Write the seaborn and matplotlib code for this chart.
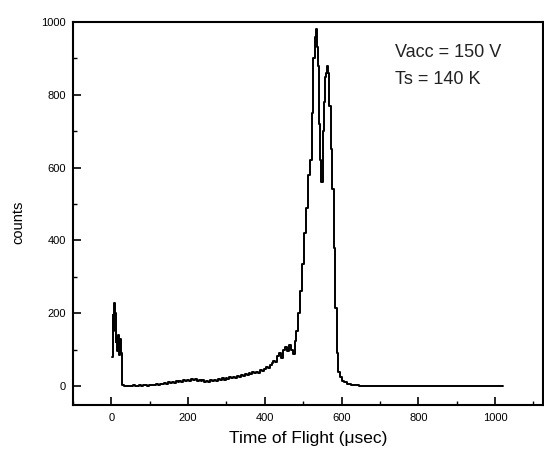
import matplotlib
matplotlib.use("Agg")
import matplotlib.pyplot as plt
import seaborn as sns
import pandas as pd
from matplotlib.ticker import MultipleLocator

# ---- data ----
tof_early = [2, 4, 6, 8, 10, 12, 14, 16, 18, 20, 22, 24, 26, 28]
counts_early = [80, 195, 150, 228, 200, 120, 135, 95, 140, 110, 85, 130, 90, 22]

tof_base = [30, 35, 40, 45, 50, 55, 60, 65, 70, 75, 80, 85, 90, 95, 100, 105, 110, 115,
            120, 125, 130, 135, 140, 145, 150, 155, 160, 165, 170, 175, 180, 185, 190,
            195, 200, 205, 210, 215, 220, 225, 230, 235, 240, 245, 250, 255, 260, 265,
            270, 275, 280, 285, 290, 295, 300, 305, 310, 315, 320, 325, 330, 335, 340,
            345, 350, 355, 360, 365, 370, 375, 380, 385, 390, 395, 400, 405, 410, 415,
            420, 425, 430, 435, 440, 445, 450, 455, 460, 465, 470, 475, 480, 485, 490, 495]
counts_base = [3, 0, 1, 0, 1, 0, 2, 1, 0, 2, 1, 3, 2, 1, 3, 2, 4, 3,
               6, 4, 7, 5, 9, 7, 10, 8, 12, 9, 13, 11, 15, 12, 16,
               13, 18, 15, 20, 16, 19, 14, 17, 13, 16, 11, 14, 12, 17, 13,
               18, 15, 20, 17, 22, 18, 21, 19, 24, 21, 26, 23, 28, 25, 30,
               27, 33, 31, 36, 33, 38, 35, 40, 37, 44, 41, 48, 52, 50, 58,
               62, 70, 65, 82, 90, 78, 100, 108, 95, 112, 100, 88, 125, 150, 200, 260]

tof_peak = [500, 505, 510, 515, 520, 524, 528, 531, 534, 537, 540, 543, 546, 549,
            552, 555, 558, 561, 564, 567, 570, 573, 577, 581, 585, 589, 593, 598,
            603, 610, 620, 630, 640, 650, 660, 1020]
counts_peak = [335, 420, 490, 580, 620, 750, 900, 960, 980, 930, 880, 720, 620, 560,
               700, 780, 850, 860, 880, 860, 770, 650, 540, 380, 215, 90, 40, 25,
               14, 10, 6, 4, 3, 1, 0, 0]

annotation_lines = ["Vacc = 150 V", "Ts = 140 K"]
x_label = "Time of Flight (\u03bcsec)"
y_label = "counts"

df = pd.DataFrame({
    "tof": tof_early + tof_base + tof_peak,
    "counts": counts_early + counts_base + counts_peak,
})

sns.set_theme(style="white")
plt.rcParams["font.family"] = ["Liberation Sans", "DejaVu Sans"]

fig = plt.figure(figsize=(5.44, 4.54), dpi=100)
ax = fig.add_axes([73 / 544, 1 - 405 / 454, 470 / 544, 383 / 454])

sns.lineplot(data=df, x="tof", y="counts", ax=ax, color="black", linewidth=1.4,
             drawstyle="steps-mid", estimator=None, sort=False)

ax.set_xlim(-100, 1125)
ax.set_ylim(-52, 1000)
ax.xaxis.set_major_locator(MultipleLocator(200))
ax.xaxis.set_minor_locator(MultipleLocator(100))
ax.yaxis.set_major_locator(MultipleLocator(200))
ax.yaxis.set_minor_locator(MultipleLocator(100))
ax.tick_params(which="major", direction="in", length=6, width=1.2, labelsize=8,
               color="black", labelcolor="black")
ax.tick_params(axis="x", which="major", pad=6)
ax.tick_params(axis="y", which="major", pad=5)
ax.tick_params(which="minor", direction="in", length=3, width=1.0, color="black")
ax.tick_params(bottom=True, left=True, which="both")

for side in ["left", "bottom", "top", "right"]:
    ax.spines[side].set_visible(True)
    ax.spines[side].set_color("black")
    ax.spines[side].set_linewidth(1.5)

ax.set_xlabel(x_label, fontsize=12.5, color="black")
ax.set_ylabel(y_label, fontsize=10.5, color="black")
ax.xaxis.set_label_coords(0.5, -0.068)
ax.yaxis.set_label_coords(-0.117, 0.478)
ax.xaxis.label.set_va("top")
ax.yaxis.label.set_va("center")

ax.text(739, 915, annotation_lines[0], fontsize=13, color="#222222", va="center", ha="left")
ax.text(739, 841, annotation_lines[1], fontsize=13, color="#222222", va="center", ha="left")

fig.savefig("out.png", dpi=100, facecolor="white")
